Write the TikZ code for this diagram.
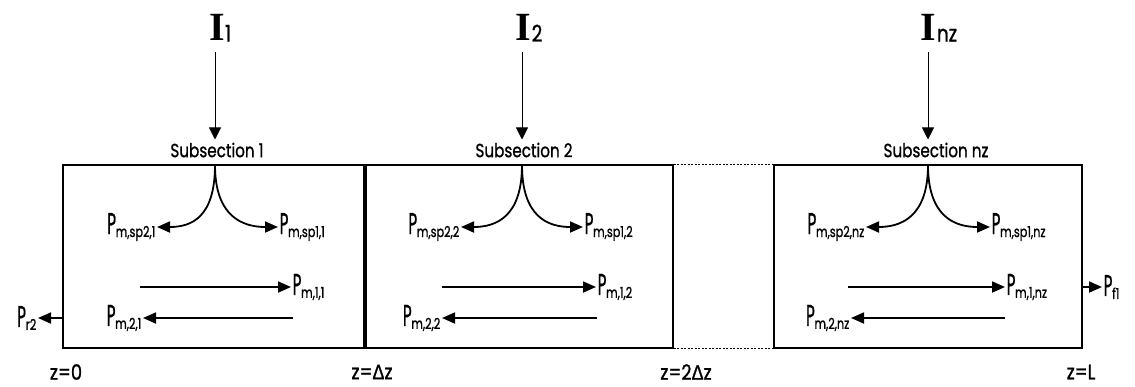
\documentclass[tikz,border=0pt]{standalone}
\usepackage{fontspec}
\usepackage{graphicx}
\setmainfont{Poppins}[FakeBold=1.2]
\newfontfamily\serifb{Liberation Serif}
\newfontfamily\dfont{Liberation Sans}[FakeBold=1.2]
\usetikzlibrary{arrows.meta}
\newcommand{\PL}[1]{\scalebox{0.5}[1]{\fontsize{30}{30}\selectfont P}\kern-0.3pt\raisebox{-3pt}{\scalebox{0.75}[1]{\fontsize{15}{15}\selectfont #1}}}
\newcommand{\IL}[1]{{\serifb\bfseries I}\kern0.5pt\raisebox{-1pt}{\fontsize{23}{23}\selectfont\scalebox{0.8}[1]{#1}}}
\newcommand{\DZ}{{\dfont Δ}}
\begin{document}
\begin{tikzpicture}[x=1pt,y=-1pt,
 box/.style={draw,line width=1.3pt,inner sep=0pt,minimum height=183pt},
 dotline/.style={line width=1.3pt,dash pattern=on 2pt off 1.5pt},
 inarr/.style={line width=0.8pt,-{Triangle[length=12pt,width=12pt]}},
 flow/.style={line width=1.8pt,-{Triangle[length=13pt,width=11pt]}},
 plab/.style={inner sep=1.5pt},
 ilab/.style={font=\fontsize{40}{40}\selectfont,inner sep=0pt},
 sublab/.style={font=\fontsize{19}{19}\selectfont,inner sep=0pt},
 zlab/.style={font=\fontsize{21}{21}\selectfont,inner sep=0pt}]
\useasboundingbox (0,0) rectangle (1135,386);

% boxes
\node[box,minimum width=301pt] (b1) at (213.5,256.5) {};
\node[box,minimum width=307pt] (b2) at (519.5,256.5) {};
\node[box,minimum width=308pt] (b3) at (928,256.5) {};
\draw[dotline] (b2.north east) -- (b3.north west);
\draw[dotline] (b2.south east) -- (b3.south west);

% top inputs
\node[ilab] (I1) at (220,28) {\IL{1}};
\node[ilab] (I2) at (529,28) {\IL{2}};
\node[ilab] (I3) at (939,28) {\IL{nz}};
\node[sublab] (s1) at (217,150) {\scalebox{0.8}[1]{Subsection 1}};
\node[sublab] (s2) at (524,150) {\scalebox{0.8}[1]{Subsection 2}};
\node[sublab] (s3) at (936,150) {\scalebox{0.8}[1]{Subsection nz}};
\coordinate (t1) at (215,165);
\coordinate (t2) at (522,165);
\coordinate (t3) at (928,165);
\coordinate (a1) at (215,52);
\coordinate (a2) at (522,52);
\coordinate (a3) at (928,52);
\draw[inarr,shorten >=3pt] (a1) -- (s1.north -| a1);
\draw[inarr,shorten >=3pt] (a2) -- (s2.north -| a2);
\draw[inarr,shorten >=3pt] (a3) -- (s3.north -| a3);

% box 1
\node[plab,anchor=east] (sp21) at (157,227) {\PL{m,sp2,1}};
\node[plab,anchor=west] (sp11) at (278,227) {\PL{m,sp1,1}};
\draw[flow] (t1) .. controls +(0,52) and +(35,0) .. (sp21.east);
\draw[flow] (t1) .. controls +(0,52) and +(-35,0) .. (sp11.west);
\node[plab,anchor=west] (p11) at (291,287) {\PL{m,1,1}};
\node[plab,anchor=east] (p21) at (143,318) {\PL{m,2,1}};
\coordinate (r1) at (140,287);
\coordinate (l1) at (293,318);
\draw[flow] (r1) -- (p11.west);
\draw[flow] (l1) -- (p21.east);

% box 2
\node[plab,anchor=east] (sp22) at (461,227) {\PL{m,sp2,2}};
\node[plab,anchor=west] (sp12) at (583,227) {\PL{m,sp1,2}};
\draw[flow] (t2) .. controls +(0,52) and +(35,0) .. (sp22.east);
\draw[flow] (t2) .. controls +(0,52) and +(-35,0) .. (sp12.west);
\node[plab,anchor=west] (p12) at (596,287) {\PL{m,1,2}};
\node[plab,anchor=east] (p22) at (442,318) {\PL{m,2,2}};
\coordinate (r2) at (442,287);
\coordinate (l2) at (597,318);
\draw[flow] (r2) -- (p12.west);
\draw[flow] (l2) -- (p22.east);

% box 3
\node[plab,anchor=east] (sp2n) at (866,227) {\PL{m,sp2,nz}};
\node[plab,anchor=west] (sp1n) at (990,227) {\PL{m,sp1,nz}};
\draw[flow] (t3) .. controls +(0,52) and +(35,0) .. (sp2n.east);
\draw[flow] (t3) .. controls +(0,52) and +(-35,0) .. (sp1n.west);
\node[plab,anchor=west] (p1n) at (1005,287) {\PL{m,1,nz}};
\node[plab,anchor=east] (p2n) at (851,318) {\PL{m,2,nz}};
\coordinate (r3) at (848,287);
\coordinate (l3) at (1005,318);
\draw[flow] (r3) -- (p1n.west);
\draw[flow] (l3) -- (p2n.east);

% outputs
\node[plab,anchor=east] (pr2) at (38,318) {\PL{r2}};
\node[plab,anchor=west] (pf1) at (1102,287) {\PL{f1}};
\coordinate (e1) at (b1.west |- pr2);
\coordinate (e3) at (b3.east |- pf1);
\draw[flow] (e1) -- (pr2.east);
\draw[flow] (e3) -- (pf1.west);

% z labels
\node[zlab] (z0) at (66,372) {\scalebox{0.85}[1]{z=0}};
\node[zlab] (z1) at (372,372) {\scalebox{0.85}[1]{z=\DZ z}};
\node[zlab] (z2) at (686,372) {\scalebox{0.85}[1]{z=2\DZ z}};
\node[zlab] (z3) at (1081,372) {\scalebox{0.85}[1]{z=L}};
\end{tikzpicture}
\end{document}
